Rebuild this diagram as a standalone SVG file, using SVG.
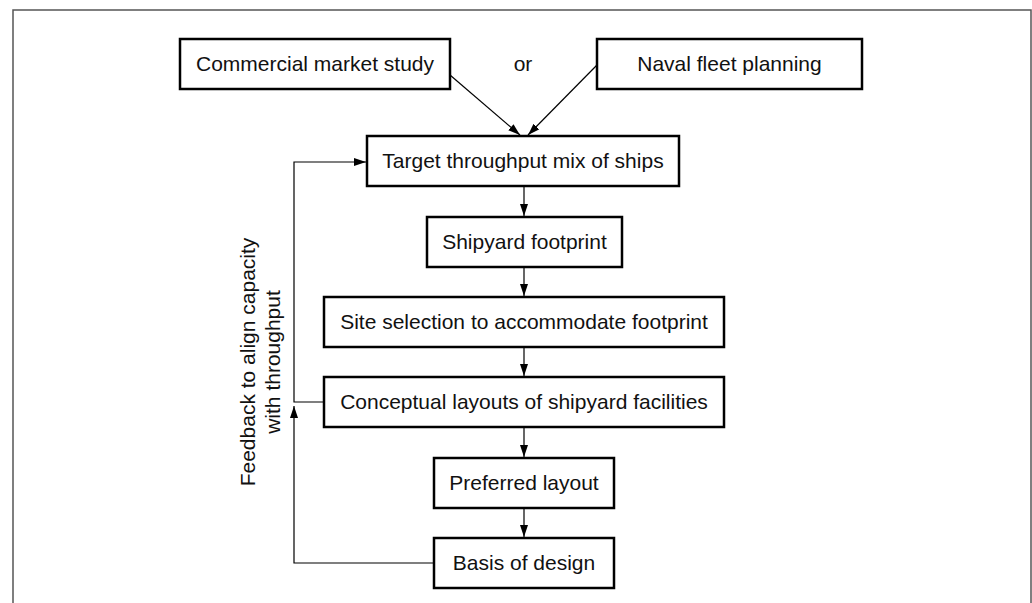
<svg xmlns="http://www.w3.org/2000/svg" width="1032" height="603" viewBox="0 0 1032 603">
<style>
.box{fill:#fff;stroke:#000;stroke-width:2.5}
.lbl{font-family:"Liberation Sans",Arial,sans-serif;font-size:21px;fill:#111;text-anchor:middle}
.con{fill:none;stroke:#000;stroke-width:1.2}
</style>
<defs>
<marker id="arr" markerUnits="userSpaceOnUse" markerWidth="13" markerHeight="9" refX="12" refY="4" orient="auto">
<path d="M0,0 L12,4 L0,8 z" fill="#000"/>
</marker>
</defs>
<rect x="0" y="0" width="1032" height="603" fill="#fff"/>
<rect x="13" y="10" width="1018" height="620" fill="none" stroke="#555" stroke-width="1.5"/>
<g id="connectors">
<line class="con" x1="450" y1="75" x2="520" y2="135" marker-end="url(#arr)"/>
<line class="con" x1="597" y1="65" x2="528" y2="135" marker-end="url(#arr)"/>
<line class="con" x1="524" y1="186" x2="524" y2="216" marker-end="url(#arr)"/>
<line class="con" x1="524" y1="267" x2="524" y2="296" marker-end="url(#arr)"/>
<line class="con" x1="524" y1="347" x2="524" y2="376" marker-end="url(#arr)"/>
<line class="con" x1="524" y1="427" x2="524" y2="457" marker-end="url(#arr)"/>
<line class="con" x1="524" y1="508" x2="524" y2="537" marker-end="url(#arr)"/>
<polyline class="con" points="324,402 294,402 294,162 366,162" marker-end="url(#arr)"/>
<polyline class="con" points="434,563 294,563 294,406" marker-end="url(#arr)"/>
</g>
<g id="n1"><rect class="box" x="180" y="39" width="270" height="50"/><text class="lbl" x="315" y="71">Commercial market study</text></g>
<g id="n2"><rect class="box" x="597" y="39" width="265" height="50"/><text class="lbl" x="729.5" y="71">Naval fleet planning</text></g>
<g id="or"><text class="lbl" x="523" y="71">or</text></g>
<g id="n3"><rect class="box" x="367" y="136" width="312" height="50"/><text class="lbl" x="523" y="168">Target throughput mix of ships</text></g>
<g id="n4"><rect class="box" x="427" y="217" width="195" height="50"/><text class="lbl" x="524.5" y="249">Shipyard footprint</text></g>
<g id="n5"><rect class="box" x="324" y="297" width="400" height="50"/><text class="lbl" x="524" y="329">Site selection to accommodate footprint</text></g>
<g id="n6"><rect class="box" x="324" y="377" width="400" height="50"/><text class="lbl" x="524" y="409">Conceptual layouts of shipyard facilities</text></g>
<g id="n7"><rect class="box" x="434" y="458" width="180" height="50"/><text class="lbl" x="524" y="490">Preferred layout</text></g>
<g id="n8"><rect class="box" x="434" y="538" width="180" height="50"/><text class="lbl" x="524" y="570">Basis of design</text></g>
<g id="feedback-label">
<text class="lbl" transform="translate(255,362) rotate(-90)">Feedback to align capacity</text>
<text class="lbl" transform="translate(280,362) rotate(-90)">with throughput</text>
</g>
</svg>
